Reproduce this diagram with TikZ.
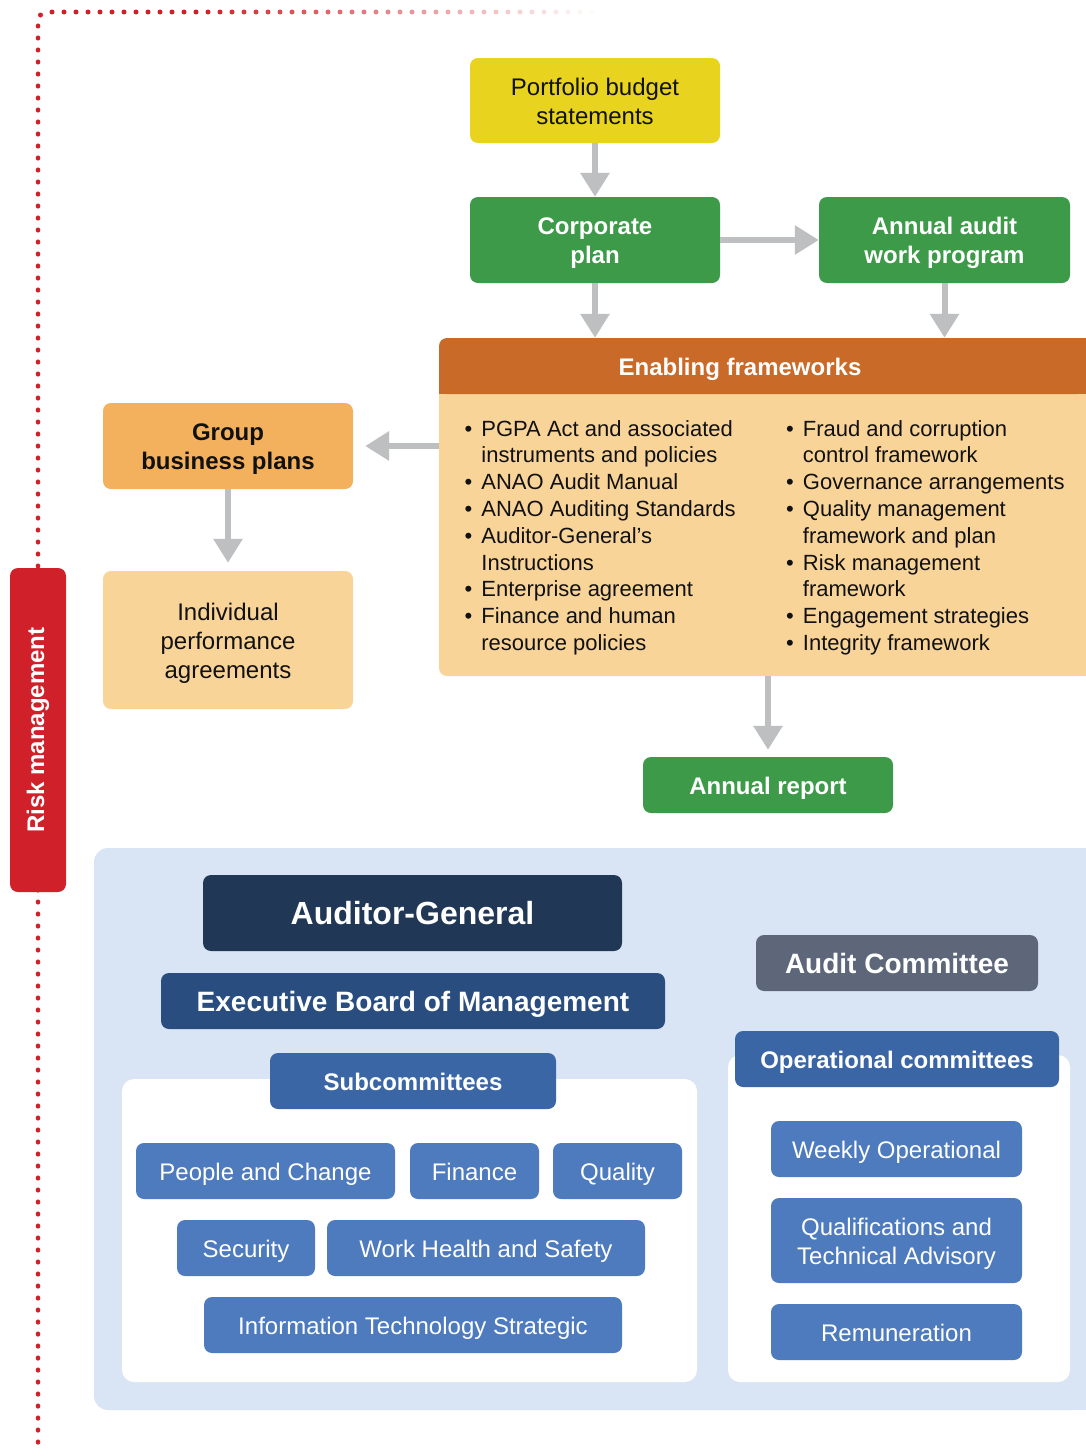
\documentclass[tikz,border=0pt]{standalone}
\usepackage{fontspec}
\setmainfont{Liberation Sans}
\usetikzlibrary{arrows.meta}
\definecolor{riskred}{HTML}{D02029}
\definecolor{pbsyellow}{HTML}{E8D31F}
\definecolor{cgreen}{HTML}{3D9A48}
\definecolor{eforange}{HTML}{C96A29}
\definecolor{efpeach}{HTML}{F9D499}
\definecolor{grporange}{HTML}{F4B15D}
\definecolor{arrowgray}{HTML}{BEBFC1}
\definecolor{panelblue}{HTML}{D9E5F4}
\definecolor{agnavy}{HTML}{213756}
\definecolor{ebmblue}{HTML}{284D7E}
\definecolor{subblue}{HTML}{3A66A6}
\definecolor{itemblue}{HTML}{4E7BBD}
\definecolor{acgray}{HTML}{5D6779}
\definecolor{darktext}{HTML}{111111}
\newcommand{\bxt}[1]{\raisebox{-3.5pt}[\height][\depth]{\begin{tabular}{@{}c@{}}#1\end{tabular}}}
\tikzset{
  box/.style={rounded corners=8pt, inner sep=0pt, align=center},
  freg/.style={font=\fontsize{24}{29}\selectfont},
  fbold/.style={font=\fontsize{24}{29}\selectfont\bfseries},
  arr/.style={draw=arrowgray, line width=6pt, -{Triangle[width=28pt,length=24pt]}},
  item/.style={box, fill=itemblue, text=white, freg, minimum height=56pt},
  eflist/.style={inner sep=0pt, anchor=base west, text=darktext, font=\fontsize{22}{26.8}\selectfont},
}
\begin{document}
\begin{tikzpicture}[x=1pt, y=-1pt]
\useasboundingbox (0,0) rectangle (1086,1456);
\fill[white] (0,0) rectangle (1086,1456);

% dotted risk line
\foreach \i in {0,...,118} {
  \fill[riskred] (38,{26+12*\i}) ellipse[x radius=2.3pt, y radius=2.6pt];
}
\fill[riskred] (40.5,15) circle[radius=2.5pt];
\foreach \i in {0,...,45} {
  \pgfmathsetmacro\xx{52+12*\i}
  \pgfmathsetmacro\pc{max(0,min(100,(600-\xx)/4))}
  \fill[riskred!\pc!white] (\xx,12) circle[radius=2.5pt];
}

% risk management box
\node[box, rotate=90, fill=riskred, text=white, fbold, minimum width=324pt, minimum height=56pt] (risk) at (38,730) {Risk management};

% top flow
\node[box, fill=pbsyellow, text=darktext, freg, minimum width=250pt, minimum height=85pt] (pbs) at (595,100.5) {\bxt{Portfolio budget\\statements}};
\node[box, fill=cgreen, text=white, fbold, minimum width=250pt, minimum height=86pt] (cp) at (595,240) {\bxt{Corporate\\plan}};
\node[box, fill=cgreen, text=white, fbold, minimum width=251pt, minimum height=86pt] (aawp) at (944.5,240) {\bxt{Annual audit\\work program}};

% enabling frameworks shapes
\fill[efpeach, rounded corners=8pt] (439,394) rectangle (1086,676);
\fill[efpeach] (439,394) rectangle (1086,420);
\fill[efpeach] (1000,394) rectangle (1086,676);
\fill[eforange, rounded corners=8pt] (439,338) rectangle (1086,394);
\fill[eforange] (439,370) rectangle (1086,394);
\fill[eforange] (1000,338) rectangle (1086,394);
\node[inner sep=0pt, minimum width=602pt, minimum height=56pt, text=white, fbold] (efh) at (740,366) {\bxt{Enabling frameworks}};
\node[inner sep=0pt, minimum width=647pt, minimum height=282pt] (efb) at (762.5,535) {};

\node[eflist] (efl) at (464.5,436) {\begin{tabular}[t]{@{}l@{\hspace{9pt}}l@{}}
\textbullet & PGPA Act and associated\\
 & instruments and policies\\
\textbullet & ANAO Audit Manual\\
\textbullet & ANAO Auditing Standards\\
\textbullet & Auditor-General’s\\
 & Instructions\\
\textbullet & Enterprise agreement\\
\textbullet & Finance and human\\
 & resource policies
\end{tabular}};
\node[eflist] (efr) at (786,436) {\begin{tabular}[t]{@{}l@{\hspace{9pt}}l@{}}
\textbullet & Fraud and corruption\\
 & control framework\\
\textbullet & Governance arrangements\\
\textbullet & Quality management\\
 & framework and plan\\
\textbullet & Risk management\\
 & framework\\
\textbullet & Engagement strategies\\
\textbullet & Integrity framework
\end{tabular}};

\node[box, fill=grporange, text=darktext, fbold, minimum width=250pt, minimum height=86pt] (gbp) at (228,446) {\bxt{Group\\business plans}};
\node[box, fill=efpeach, text=darktext, freg, minimum width=250pt, minimum height=138pt] (ipa) at (228,640) {\bxt{Individual\\performance\\agreements}};
\node[box, fill=cgreen, text=white, fbold, minimum width=250pt, minimum height=56pt] (ar) at (768,785) {\bxt{Annual report}};

% arrows
\draw[arr] (pbs) -- (cp);
\draw[arr] (cp) -- (aawp);
\draw[arr] (cp.south) -- (cp.south |- efh.north);
\draw[arr] (aawp.south) -- (aawp.south |- efh.north);
\draw[arr, shorten >=12pt] (efb.west |- gbp.east) -- (gbp.east);
\draw[arr, shorten >=8pt] (gbp) -- (ipa);
\draw[arr, shorten >=7pt] (efb.south -| ar.north) -- (ar.north);

% governance panel
\fill[panelblue, rounded corners=14pt] (94,848) rectangle (1086,1410);
\fill[panelblue] (1000,848) rectangle (1086,1410);
\fill[white, rounded corners=12pt] (122,1079) rectangle (697,1382);
\fill[white, rounded corners=12pt] (728,1055) rectangle (1070,1382);

\node[box, fill=agnavy, text=white, font=\fontsize{32}{38}\selectfont\bfseries, minimum width=419pt, minimum height=76pt] (ag) at (412.5,913) {\bxt{Auditor-General}};
\node[box, fill=ebmblue, text=white, font=\fontsize{28}{34}\selectfont\bfseries, minimum width=504pt, minimum height=56pt] (ebm) at (413,1001) {\bxt{Executive Board of Management}};
\node[box, fill=subblue, text=white, fbold, minimum width=286pt, minimum height=56pt] (sub) at (413,1081) {\bxt{Subcommittees}};
\node[box, fill=acgray, text=white, font=\fontsize{28}{34}\selectfont\bfseries, minimum width=282pt, minimum height=56pt] (ac) at (897,963) {\bxt{Audit Committee}};
\node[box, fill=subblue, text=white, fbold, minimum width=324pt, minimum height=56pt] (oc) at (897,1059) {\bxt{Operational committees}};

\node[item, minimum width=251pt] (wo) at (896.5,1149) {\bxt{Weekly Operational}};
\node[item, minimum width=251pt, minimum height=85pt] (qta) at (896.5,1240.5) {\bxt{Qualifications and\\Technical Advisory}};
\node[item, minimum width=251pt] (rem) at (896.5,1332) {\bxt{Remuneration}};

\node[item, minimum width=259pt] (pac) at (265.5,1171) {\bxt{People and Change}};
\node[item, minimum width=129pt] (fin) at (474.5,1171) {\bxt{Finance}};
\node[item, minimum width=129pt] (qua) at (617.5,1171) {\bxt{Quality}};
\node[item, minimum width=138pt] (sec) at (246,1248) {\bxt{Security}};
\node[item, minimum width=318pt] (whs) at (486,1248) {\bxt{Work Health and Safety}};
\node[item, minimum width=418pt] (its) at (413,1325) {\bxt{Information Technology Strategic}};
\end{tikzpicture}
\end{document}
